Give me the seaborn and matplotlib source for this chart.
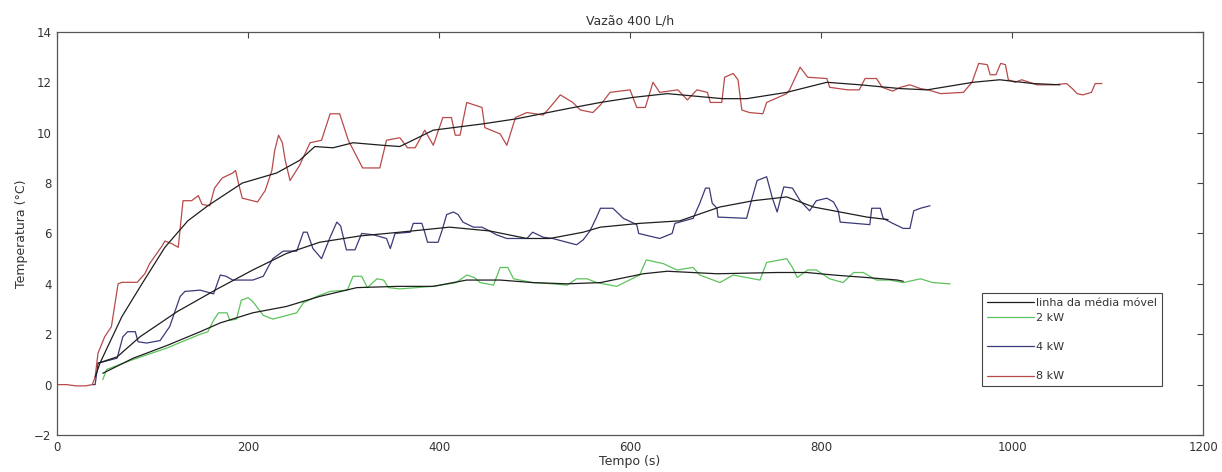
import numpy as np
import pandas as pd
import matplotlib
matplotlib.use('Agg')
import matplotlib.pyplot as plt
import seaborn as sns
from matplotlib.lines import Line2D

# Raw readings (time in s, temperature in C)
red_t = [0, 10, 20, 30, 37, 40, 43, 50, 57, 64, 68, 84, 92, 97, 110, 113, 120, 127, 132, 141,
         148, 152, 160, 165, 173, 184, 187, 190, 194, 210, 218, 225, 228, 232, 236, 239, 244, 254, 265, 277,
         286, 296, 305, 320, 338, 345, 359, 367, 375, 385, 394, 404, 413, 417, 422, 429, 445, 448, 464, 471,
         480, 492, 509, 516, 527, 540, 548, 561, 569, 579, 600, 607, 616, 624, 631, 650, 660, 670, 681, 684,
         696, 699, 708, 713, 717, 725, 739, 743, 764, 767, 778, 786, 806, 809, 828, 840, 846, 858, 864, 875,
         883, 893, 904, 912, 925, 949, 958, 965, 974, 977, 983, 988, 993, 996, 1003, 1010, 1026, 1043, 1057, 1063,
         1068, 1074, 1083, 1087, 1094]
red_y = [0, 0, -0.05, -0.05, 0, 0.3, 1.25, 1.9, 2.3, 4.0, 4.06, 4.06, 4.4, 4.8, 5.5, 5.7, 5.6, 5.45, 7.3, 7.3,
         7.5, 7.15, 7.1, 7.8, 8.2, 8.4, 8.5, 8.0, 7.4, 7.25, 7.7, 8.5, 9.3, 9.9, 9.6, 8.9, 8.1, 8.7, 9.6, 9.7,
         10.75, 10.75, 9.7, 8.6, 8.6, 9.7, 9.8, 9.4, 9.4, 10.1, 9.5, 10.6, 10.6, 9.9, 9.9, 11.2, 11.0, 10.2, 9.95, 9.5,
         10.6, 10.8, 10.7, 11.0, 11.5, 11.2, 10.9, 10.8, 11.1, 11.6, 11.7, 11.0, 11.0, 12.0, 11.6, 11.7, 11.3, 11.7, 11.6, 11.2,
         11.2, 12.2, 12.35, 12.1, 10.9, 10.8, 10.75, 11.2, 11.55, 11.7, 12.6, 12.2, 12.15, 11.8, 11.7, 11.7, 12.15, 12.15, 11.8, 11.65,
         11.8, 11.9, 11.75, 11.7, 11.55, 11.6, 12.0, 12.75, 12.7, 12.3, 12.3, 12.75, 12.7, 12.1, 12.0, 12.1, 11.9, 11.9, 11.95, 11.75,
         11.55, 11.5, 11.6, 11.95, 11.95]

blue_t = [37, 40, 43, 63, 69, 74, 82, 85, 94, 108, 118, 129, 134, 150, 164, 171, 177, 184, 205, 216,
          223, 226, 237, 251, 258, 262, 268, 277, 286, 293, 297, 303, 312, 319, 331, 345, 349, 354, 370, 373,
          382, 385, 388, 399, 403, 408, 415, 420, 425, 436, 445, 453, 460, 471, 492, 498, 509, 519, 534, 544,
          551, 558, 565, 569, 582, 593, 607, 609, 631, 644, 647, 666, 673, 679, 683, 686, 691, 692, 722, 727,
          733, 743, 749, 754, 757, 761, 770, 778, 788, 795, 806, 813, 818, 820, 851, 853, 862, 865, 875, 886,
          893, 897, 904, 914]
blue_y = [0, 0.0, 0.85, 1.05, 1.9, 2.1, 2.1, 1.7, 1.65, 1.75, 2.3, 3.5, 3.7, 3.75, 3.6, 4.35, 4.3, 4.15, 4.15, 4.3,
          4.8, 5.0, 5.3, 5.3, 6.05, 6.05, 5.4, 5.0, 5.85, 6.45, 6.3, 5.35, 5.35, 6.0, 5.95, 5.8, 5.4, 6.0, 6.05, 6.4,
          6.4, 6.05, 5.65, 5.65, 6.1, 6.75, 6.85, 6.75, 6.45, 6.25, 6.25, 6.1, 5.95, 5.8, 5.8, 6.05, 5.85, 5.8, 5.65, 5.55,
          5.75, 6.1, 6.65, 7.0, 7.0, 6.6, 6.35, 6.0, 5.8, 6.0, 6.4, 6.6, 7.2, 7.8, 7.8, 7.2, 7.0, 6.65, 6.6, 7.3,
          8.1, 8.25, 7.4, 6.85, 7.3, 7.85, 7.8, 7.3, 6.9, 7.3, 7.4, 7.25, 6.9, 6.45, 6.35, 7.0, 7.0, 6.6, 6.4, 6.2,
          6.2, 6.9, 7.0, 7.1]

green_t = [48, 52, 80, 115, 150, 158, 164, 169, 178, 181, 188, 193, 200, 205, 216, 226, 241, 251, 258, 272,
           286, 304, 310, 319, 325, 335, 342, 347, 359, 394, 418, 429, 437, 443, 457, 464, 472, 478, 498, 519,
           534, 544, 555, 565, 586, 610, 617, 635, 649, 666, 673, 694, 708, 736, 743, 764, 770, 775, 786, 795,
           809, 823, 834, 844, 858, 872, 886, 904, 917, 935]
green_y = [0.2, 0.6, 1.0, 1.45, 2.0, 2.1, 2.55, 2.85, 2.85, 2.55, 2.6, 3.35, 3.45, 3.3, 2.75, 2.6, 2.75, 2.85, 3.25, 3.5,
           3.7, 3.75, 4.3, 4.3, 3.85, 4.2, 4.15, 3.85, 3.8, 3.9, 4.05, 4.35, 4.25, 4.05, 3.95, 4.65, 4.65, 4.2, 4.05, 4.0,
           3.95, 4.2, 4.2, 4.05, 3.9, 4.35, 4.95, 4.8, 4.55, 4.65, 4.35, 4.05, 4.35, 4.15, 4.85, 5.0, 4.65, 4.25, 4.55, 4.55,
           4.2, 4.05, 4.45, 4.45, 4.15, 4.15, 4.05, 4.2, 4.05, 4.0]

# Moving average lines
red_avg_t = [40, 45, 68, 89, 113, 137, 158, 194, 230, 254, 270, 289, 310, 341, 359, 394, 446, 481, 534, 569,
             603, 639, 697, 722, 764, 806, 841, 883, 911, 959, 987, 1022, 1050]
red_avg_y = [0.3, 0.85, 2.7, 4.0, 5.45, 6.5, 7.1, 8.0, 8.4, 8.9, 9.45, 9.4, 9.6, 9.5, 9.45, 10.1, 10.35, 10.55, 10.95, 11.2,
             11.4, 11.55, 11.35, 11.35, 11.6, 12.0, 11.9, 11.75, 11.7, 12.0, 12.1, 11.95, 11.9]

blue_avg_t = [43, 63, 87, 126, 168, 205, 240, 275, 317, 359, 411, 453, 492, 516, 551, 569, 610, 652, 694, 729,
              764, 792, 820, 848, 870]
blue_avg_y = [0.85, 1.1, 1.9, 2.9, 3.8, 4.55, 5.2, 5.65, 5.9, 6.05, 6.25, 6.1, 5.8, 5.8, 6.05, 6.25, 6.4, 6.5, 7.05, 7.3,
              7.45, 7.05, 6.85, 6.65, 6.55]

green_avg_t = [48, 80, 115, 150, 171, 205, 240, 275, 314, 357, 394, 429, 464, 498, 534, 569, 614, 639, 691, 754,
               785, 813, 848, 880, 886]
green_avg_y = [0.45, 1.05, 1.55, 2.1, 2.45, 2.85, 3.1, 3.5, 3.85, 3.9, 3.9, 4.15, 4.15, 4.05, 4.0, 4.05, 4.4, 4.5, 4.4, 4.45,
               4.45, 4.35, 4.25, 4.15, 4.1]

labels = ['linha da média móvel', '2 kW', ' ', '4 kW', ' ', '8 kW']

RED = '#b84a4a'
BLUE = '#3a3a78'
GREEN = '#5cc35c'
AVG = '#1e1e1e'


def main():
    sns.set_style('white')
    plt.rcParams['font.family'] = ['DejaVu Sans']
    plt.rcParams['text.color'] = '#333333'
    plt.rcParams['axes.labelcolor'] = '#333333'

    fig = plt.figure(figsize=(12.22, 4.72), dpi=100)
    ax = fig.add_axes([0.0466, 0.0784, 0.938, 0.854])

    lw = 0.9
    sns.lineplot(x=green_t, y=green_y, ax=ax, color=GREEN, linewidth=lw, sort=False, estimator=None)
    sns.lineplot(x=blue_t, y=blue_y, ax=ax, color=BLUE, linewidth=lw, sort=False, estimator=None)
    sns.lineplot(x=red_t, y=red_y, ax=ax, color=RED, linewidth=lw, sort=False, estimator=None)
    for t, y in [(green_avg_t, green_avg_y), (blue_avg_t, blue_avg_y), (red_avg_t, red_avg_y)]:
        sns.lineplot(x=t, y=y, ax=ax, color=AVG, linewidth=lw, sort=False, estimator=None)

    ax.set_xlim(0, 1200)
    ax.set_ylim(-2, 14)
    ax.set_xticks(np.arange(0, 1201, 200))
    ax.set_yticks(np.arange(-2, 15, 2))
    ax.tick_params(direction='in', length=4, width=0.8, top=True, right=True,
                   labelsize=8.5, colors='#444444', labelcolor='#333333', pad=4)
    for sp in ax.spines.values():
        sp.set_color('#555555')
        sp.set_linewidth(0.9)

    ax.set_title('Vazão 400 L/h', fontsize=9, pad=5)
    ax.set_xlabel('Tempo (s)', fontsize=9, labelpad=1)
    ax.set_ylabel('Temperatura (°C)', fontsize=9, labelpad=4)

    blank = Line2D([], [], color='none')
    handles = [Line2D([], [], color=AVG, linewidth=lw),
               Line2D([], [], color=GREEN, linewidth=lw),
               blank,
               Line2D([], [], color=BLUE, linewidth=lw),
               blank,
               Line2D([], [], color=RED, linewidth=lw)]
    leg = ax.legend(handles, labels, loc='upper left', bbox_to_anchor=(0.807, 0.352),
                    fontsize=8, frameon=True, fancybox=False, framealpha=1,
                    edgecolor='#444444', handlelength=4.2, handletextpad=0.2,
                    labelspacing=0.42, borderpad=0.45, borderaxespad=0)
    leg.get_frame().set_linewidth(0.8)

    fig.savefig('out.png', dpi=100)


if __name__ == '__main__':
    main()
